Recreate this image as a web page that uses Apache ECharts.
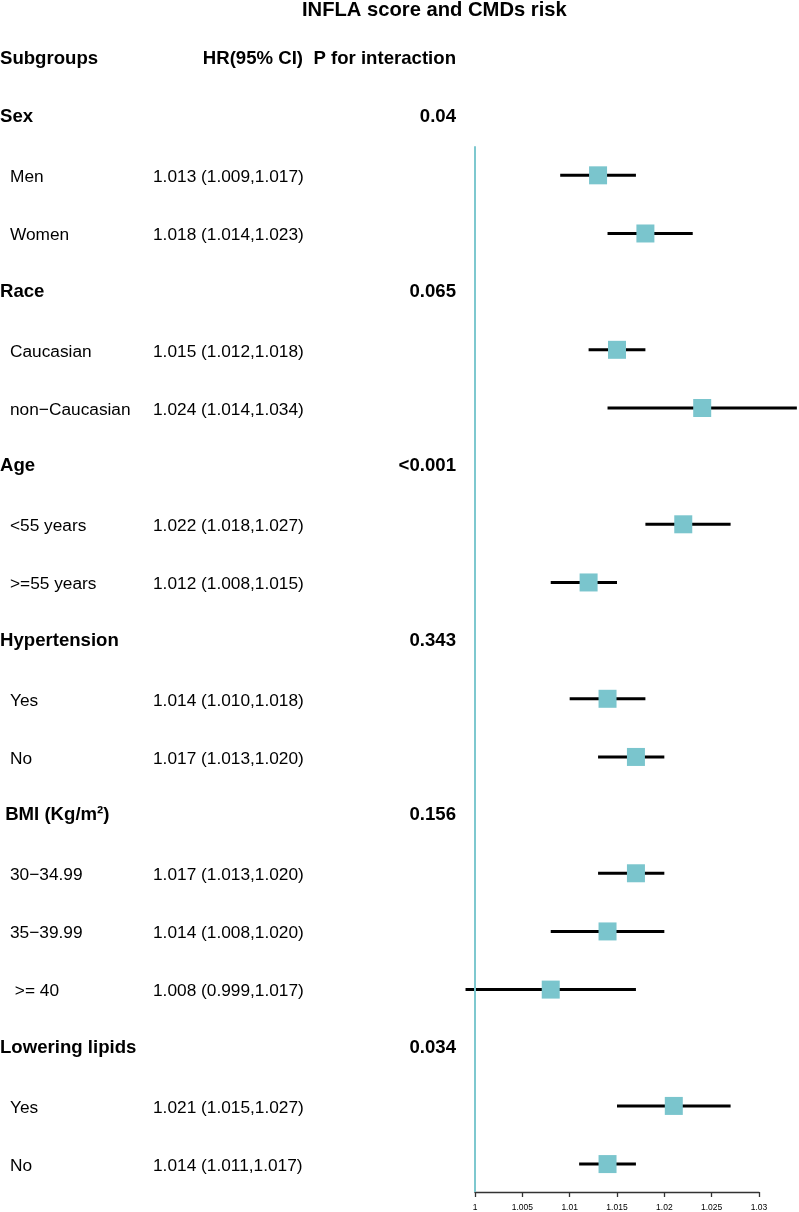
<!DOCTYPE html>
<html>
<head>
<meta charset="utf-8">
<script src="https://cdn.jsdelivr.net/npm/echarts@6/dist/echarts.min.js"></script>
<style>
  html, body { margin: 0; padding: 0; background: #fff; }
  #chart { width: 799px; height: 1212px; }
</style>
</head>
<body>
<div id="chart"></div>
<script>
const columnHeaders = ['Subgroups', 'HR(95% CI)', 'P for interaction'];
const rowLabels = ['Sex', 'Men', 'Women', 'Race', 'Caucasian', 'non\u2212Caucasian', 'Age', '<55 years', '>=55 years',
  'Hypertension', 'Yes', 'No', ' BMI (Kg/m\u00b2)', '30\u221234.99', '35\u221239.99', ' >= 40', 'Lowering lipids', 'Yes', 'No'];
const hrValues = [null, 1.013, 1.018, null, 1.015, 1.024, null, 1.022, 1.012, null, 1.014, 1.017, null, 1.017, 1.014, 1.008, null, 1.021, 1.014];
const ciLower = [null, 1.009, 1.014, null, 1.012, 1.014, null, 1.018, 1.008, null, 1.010, 1.013, null, 1.013, 1.008, 0.999, null, 1.015, 1.011];
const ciUpper = [null, 1.017, 1.023, null, 1.018, 1.034, null, 1.027, 1.015, null, 1.018, 1.020, null, 1.020, 1.020, 1.017, null, 1.027, 1.017];
const pValues = ['0.04', '', '', '0.065', '', '', '<0.001', '', '', '0.343', '', '', '0.156', '', '', '', '0.034', '', ''];
const xMin = 1, xMax = 1.03, xStep = 0.005;

const teal = '#7AC5CD';
const fontFamily = '"Liberation Sans", Arial, sans-serif';

// rows: 0 = column headers, then one per subgroup line
const forestData = [];
const textRows = [{ row: 0, header: true, cols: columnHeaders }];
rowLabels.forEach((lab, i) => {
  const row = i + 1;
  const isGroup = hrValues[i] == null;
  textRows.push({
    row: row,
    header: isGroup,
    label: lab,
    hr: isGroup ? '' : hrValues[i].toFixed(3) + ' (' + ciLower[i].toFixed(3) + ',' + ciUpper[i].toFixed(3) + ')',
    p: pValues[i]
  });
  if (!isGroup) forestData.push([row, hrValues[i], ciLower[i], ciUpper[i]]);
});

const chart = echarts.init(document.getElementById('chart'));

const boldStyle = { fontFamily: fontFamily, fontWeight: 'bold', fontSize: 18.6, fill: '#000' };
const normStyle = { fontFamily: fontFamily, fontWeight: 'normal', fontSize: 17.3, fill: '#000' };

chart.setOption({
  animation: false,
  title: {
    text: 'INFLA score and CMDs risk',
    left: 302, top: 0, padding: 0,
    textStyle: { fontFamily: fontFamily, fontWeight: 'bold', fontSize: 20.2, color: '#000' }
  },
  grid: { left: 475, right: 40, top: 59, bottom: 19 },
  xAxis: {
    type: 'value', min: xMin, max: xMax, interval: xStep, position: 'bottom',
    axisLine: { show: true, onZero: false, lineStyle: { color: '#333', width: 1.3 } },
    axisTick: { show: true, length: 5, lineStyle: { color: '#333', width: 1.3 } },
    splitLine: { show: false },
    axisLabel: {
      fontFamily: fontFamily, fontSize: 8.5, color: '#000', margin: 11,
      formatter: v => String(+v.toFixed(3))
    }
  },
  yAxis: { type: 'value', min: 0, max: 19.48, inverse: true, show: false },
  series: [
    {
      type: 'custom',
      clip: false,
      silent: true,
      data: forestData,
      encode: { x: [1, 2, 3], y: 0 },
      renderItem: function (params, api) {
        const row = api.value(0);
        const p = api.coord([api.value(1), row]);
        const lo = api.coord([api.value(2), row]);
        const hi = api.coord([api.value(3), row]);
        const s = 18;
        return {
          type: 'group',
          children: [
            { type: 'line', shape: { x1: lo[0], y1: p[1], x2: hi[0], y2: p[1] }, style: { stroke: '#000', lineWidth: 3 } },
            { type: 'rect', shape: { x: p[0] - s / 2, y: p[1] - s / 2, width: s, height: s }, style: { fill: teal } }
          ]
        };
      },
      markLine: {
        silent: true,
        symbol: 'none',
        label: { show: false },
        lineStyle: { color: '#7EC8CF', width: 2, type: 'solid' },
        data: [[{ coord: [1, 1.5] }, { coord: [1, 19.48] }]]
      },
      z: 3
    },
    {
      type: 'custom',
      clip: false,
      silent: true,
      data: textRows.map(r => [1, r.row]),
      encode: { x: 0, y: 1 },
      renderItem: function (params, api) {
        const r = textRows[params.dataIndex];
        const y = api.coord([1, r.row])[1];
        if (r.row === 0) {
          return {
            type: 'group',
            children: [
              { type: 'text', x: 0, y: y, style: Object.assign({ text: r.cols[0], align: 'left', verticalAlign: 'middle' }, boldStyle) },
              { type: 'text', x: 303, y: y, style: Object.assign({ text: r.cols[1], align: 'right', verticalAlign: 'middle' }, boldStyle) },
              { type: 'text', x: 456, y: y, style: Object.assign({ text: r.cols[2], align: 'right', verticalAlign: 'middle' }, boldStyle) }
            ]
          };
        }
        if (r.header) {
          return {
            type: 'group',
            children: [
              { type: 'text', x: 0, y: y, style: Object.assign({ text: r.label, align: 'left', verticalAlign: 'middle' }, boldStyle) },
              { type: 'text', x: 456, y: y, style: Object.assign({ text: r.p, align: 'right', verticalAlign: 'middle' }, boldStyle) }
            ]
          };
        }
        return {
          type: 'group',
          children: [
            { type: 'text', x: 10, y: y + 2, style: Object.assign({ text: r.label, align: 'left', verticalAlign: 'middle' }, normStyle) },
            { type: 'text', x: 153, y: y + 2, style: Object.assign({ text: r.hr, align: 'left', verticalAlign: 'middle' }, normStyle) }
          ]
        };
      },
      z: 4
    }
  ]
});
</script>
</body>
</html>
